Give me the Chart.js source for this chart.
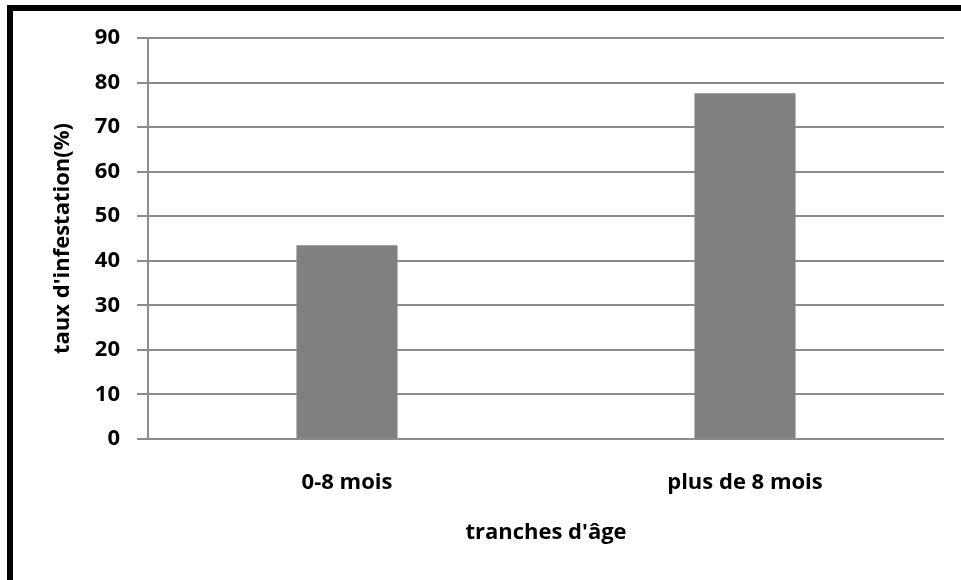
<!DOCTYPE html>
<html>
<head>
<meta charset="utf-8">
<script src="https://cdn.jsdelivr.net/npm/chart.js@4/dist/chart.umd.min.js"></script>
<style>
  html, body { margin: 0; padding: 0; background: #ffffff; }
  #wrap { position: relative; width: 961px; height: 580px; }
</style>
</head>
<body>
<div id="wrap"><canvas id="chart" width="961" height="580"></canvas></div>
<script>
// Taux d'infestation selon la tranche d'âge
const categories = ['0-8 mois', 'plus de 8 mois'];
const infestation = [43.5, 77.6];
const yTicks = [0, 10, 20, 30, 40, 50, 60, 70, 80, 90];

const FONT = '"Open Sans", Lato, sans-serif';

// Black frame along the top and left edges of the figure
const framePlugin = {
  id: 'frame',
  beforeDraw(chart) {
    const ctx = chart.ctx;
    ctx.save();
    ctx.fillStyle = '#ffffff';
    ctx.fillRect(0, 0, chart.width, chart.height);
    ctx.fillStyle = '#000000';
    ctx.fillRect(7, 5, chart.width - 7, 6);
    ctx.fillRect(7, 5, 6, chart.height - 5);
    ctx.restore();
  }
};

new Chart(document.getElementById('chart'), {
  type: 'bar',
  data: {
    labels: categories,
    datasets: [{
      data: infestation,
      backgroundColor: '#808080',
      borderWidth: 0,
      categoryPercentage: 1,
      barPercentage: 0.254
    }]
  },
  plugins: [framePlugin],
  options: {
    responsive: false,
    animation: false,
    devicePixelRatio: 1,
    layout: { padding: { top: 38, right: 17, bottom: 0, left: 0 } },
    plugins: { legend: { display: false }, tooltip: { enabled: false } },
    scales: {
      x: {
        grid: { display: false, drawTicks: false },
        border: { display: false },
        ticks: { color: '#000000', padding: 31, font: { family: FONT, size: 22, weight: 'bold' } },
        title: {
          display: true,
          text: "tranches d'âge",
          color: '#000000',
          font: { family: FONT, size: 22, weight: 'bold' },
          padding: { top: 0, bottom: 34 }
        },
        afterFit(scale) { scale.height = 141; }
      },
      y: {
        min: 0,
        max: 90,
        afterBuildTicks(scale) { scale.ticks = yTicks.map(v => ({ value: v })); },
        grid: { color: '#8c8c8c', lineWidth: 2, tickLength: 11, drawTicks: true },
        border: { display: true, color: '#8c8c8c', width: 2 },
        ticks: { color: '#000000', padding: 17, font: { family: FONT, size: 22, weight: 'bold' } },
        title: {
          display: true,
          text: "taux d'infestation(%)",
          color: '#000000',
          font: { family: FONT, size: 22, weight: 'bold' },
          padding: { top: 50, bottom: 0 }
        },
        afterFit(scale) { scale.width = 148; }
      }
    }
  }
});
</script>
</body>
</html>
